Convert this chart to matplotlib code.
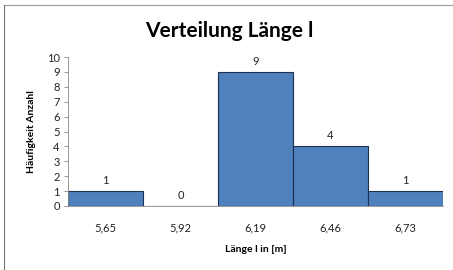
import matplotlib
matplotlib.use("Agg")
import matplotlib.pyplot as plt
from matplotlib.lines import Line2D

categories = ["5,65", "5,92", "6,19", "6,46", "6,73"]
counts = [1, 0, 9, 4, 1]
yticks = list(range(0, 11))

plt.rcParams['font.family'] = ['Lato', 'DejaVu Sans']

fig = plt.figure(figsize=(4.53, 2.70), dpi=100)
ax = fig.add_axes([68/453, 1-206/270, 375/453, 149/270])

x = range(len(categories))
ax.bar(x, counts, width=1.0, color="#4F81BD", edgecolor="#1F2F4F", linewidth=0.8)
for xi, c in zip(x, counts):
    ax.text(xi, c + 0.35, str(c), ha="center", va="bottom", fontsize=8, color="#222222")

ax.set_xlim(-0.5, len(categories) - 0.5)
ax.set_ylim(0, 10)
ax.set_yticks(yticks)
ax.set_xticks(list(x))
ax.set_xticklabels(categories)
ax.tick_params(axis="x", length=0, pad=12, labelsize=8, colors="#222222")
ax.tick_params(axis="y", length=3, width=0.6, color="#888888", labelsize=8, labelcolor="#222222", pad=3)
for s in ["top", "right"]:
    ax.spines[s].set_visible(False)
ax.spines["left"].set_color("#888888")
ax.spines["left"].set_linewidth(0.6)
ax.spines["bottom"].set_color("#888888")
ax.spines["bottom"].set_linewidth(0.6)

ax.set_xlabel("Länge l in [m]", fontsize=7.5, fontweight="bold", labelpad=8)
ax.set_ylabel("Häufigkeit Anzahl", fontsize=7.5, fontweight="bold", labelpad=8)
fig.text(0.5 + 3/453, 1 - 31/270, "Verteilung Länge l", ha="center", va="center",
         fontsize=15, fontweight="bold", color="#000000")

# frame lines of the screenshot
fig.add_artist(Line2D([4/453, 1], [1-5/270, 1-5/270], color="#999999", linewidth=0.8))
fig.add_artist(Line2D([4/453, 4/453], [0, 1-5/270], color="#777777", linewidth=0.8))

fig.savefig("out.png", dpi=100)
